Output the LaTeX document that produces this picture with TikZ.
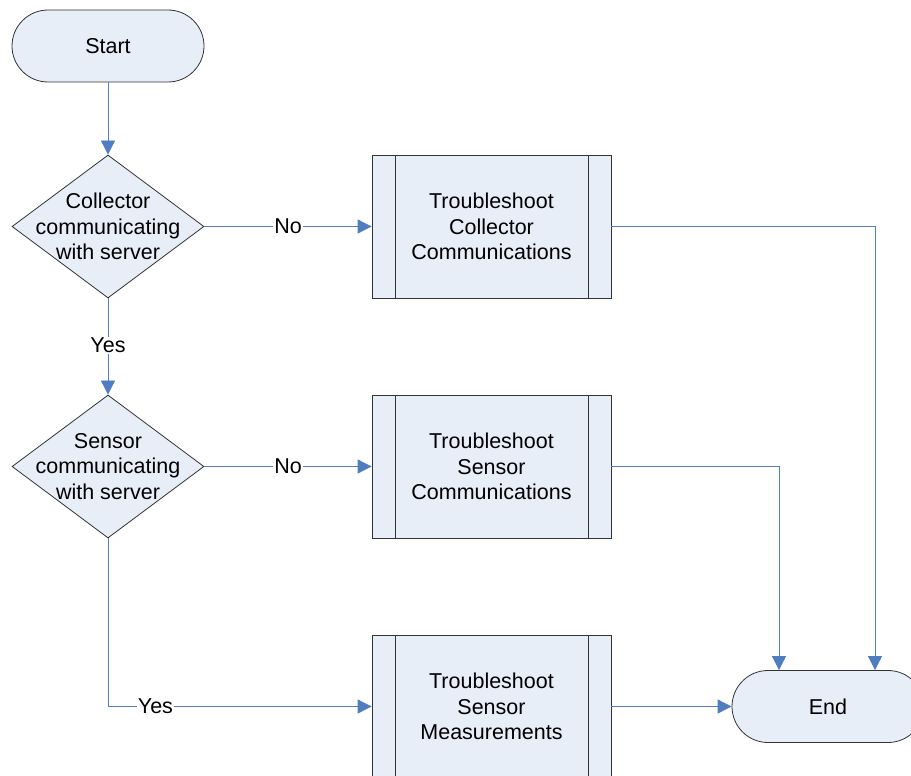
\documentclass[tikz,border=0pt]{standalone}
\usepackage{fontspec}
\setmainfont{Liberation Sans}
\usetikzlibrary{arrows.meta,shapes.geometric,calc}
\definecolor{boxfill}{HTML}{E8EEF7}
\definecolor{linkblue}{HTML}{4F7DC0}
\begin{document}
\begin{tikzpicture}[x=1pt,y=-1pt,
  font=\fontsize{21.5}{25.5}\selectfont,
  term/.style={draw=black!80,fill=boxfill,rounded corners=36pt,minimum width=192pt,minimum height=72pt,line width=0.8pt,inner sep=0pt},
  dec/.style={draw=black!80,fill=boxfill,diamond,minimum width=192pt,minimum height=143pt,inner sep=0pt,line width=0.8pt},
  dectext/.style={label={[align=center]center:#1}},
  proc/.style={draw=black!80,fill=boxfill,rectangle,minimum width=239pt,minimum height=143pt,inner sep=0pt,align=center,line width=0.8pt,
    path picture={
      \draw[black!80,line width=0.8pt] ([xshift=23pt]path picture bounding box.north west) -- ([xshift=23pt]path picture bounding box.south west);
      \draw[black!80,line width=0.8pt] ([xshift=-23pt]path picture bounding box.north east) -- ([xshift=-23pt]path picture bounding box.south east);}},
  link/.style={draw=linkblue,line width=0.8pt,-{Triangle[length=14pt,width=14pt]}},
  lab/.style={fill=white,inner sep=1pt}]
\clip (0,0) rectangle (911,776);
\useasboundingbox (0,0) rectangle (911,776);
\fill[white] (0,0) rectangle (911,776);
\node[term] (start) at (108,46) {Start};
\node[dec,dectext={Collector\\communicating\\with server}] (d1) at (108,226.5) {};
\node[dec,dectext={Sensor\\communicating\\with server}] (d2) at (108,466.5) {};
\node[proc] (p1) at (491.5,226.5) {Troubleshoot\\Collector\\Communications};
\node[proc] (p2) at (491.5,466.5) {Troubleshoot\\Sensor\\Communications};
\node[proc] (p3) at (491.5,706.5) {Troubleshoot\\Sensor\\Measurements};
\node[term] (end) at (828,706.5) {End};
\coordinate (c1) at (875,226.5);
\coordinate (c2) at (779,466.5);
\coordinate (c3) at (108,706.5);
\draw[link] (start) -- (d1);
\draw[link] (d1) -- node[lab]{No} (p1);
\draw[link] (d1) -- node[lab,pos=0.49]{Yes} (d2);
\draw[link] (d2) -- node[lab]{No} (p2);
\draw[link] (d2.south) -- (c3) -- node[lab,pos=0.18]{Yes} (p3);
\draw[link] (p3) -- (end);
\draw[link] (p1.east) -- (c1) -- (c1 |- end.north);
\draw[link] (p2.east) -- (c2) -- (c2 |- end.north);
\end{tikzpicture}
\end{document}
